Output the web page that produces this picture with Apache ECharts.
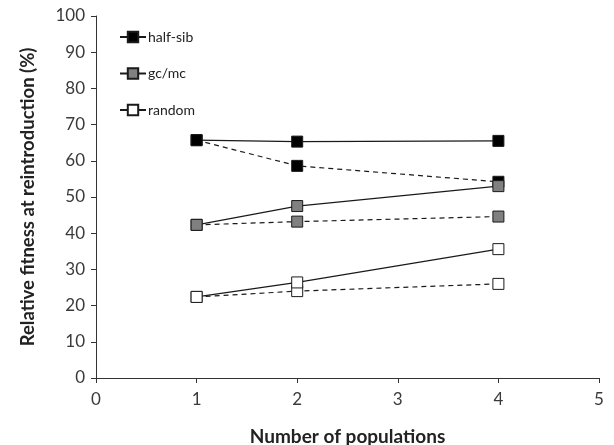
<!DOCTYPE html>
<html>
<head>
<meta charset="utf-8">
<script src="https://cdn.jsdelivr.net/npm/echarts@6/dist/echarts.min.js"></script>
<style>html,body{margin:0;padding:0;background:#fff}#c{width:614px;height:445px}</style>
</head>
<body>
<div id="c"></div>
<script>
var populations = [1, 2, 4];
var halfSibSolid = [65.7, 65.3, 65.5];
var halfSibDashed = [65.7, 58.6, 54.2];
var gcmcSolid = [42.3, 47.5, 53.0];
var gcmcDashed = [42.3, 43.2, 44.6];
var randomSolid = [22.4, 26.4, 35.6];
var randomDashed = [22.4, 24.0, 26.0];
var xTicks = [0, 1, 2, 3, 4, 5];
var yTicks = [0, 10, 20, 30, 40, 50, 60, 70, 80, 90, 100];

function pairs(vals) { return populations.map(function (p, i) { return [p, vals[i]]; }); }

var FONT = 'Lato, "Open Sans", sans-serif';
function mk(name, vals, fill, dashed) {
  return {
    name: name, type: 'line', data: pairs(vals),
    symbol: 'rect', symbolSize: 11, z: dashed ? 2 : 3,
    lineStyle: { color: '#1a1a1a', width: 1.2, type: dashed ? [5, 4] : 'solid' },
    itemStyle: { color: fill, borderColor: '#1a1a1a', borderWidth: 1 },
    emphasis: { disabled: true }, animation: false
  };
}

var chart = echarts.init(document.getElementById('c'));
chart.setOption({
  animation: false,
  grid: { left: 96, right: 15, top: 16, bottom: 67, outerBoundsMode: 'none', containLabel: false },
  legend: {
    orient: 'vertical', left: 114, top: 25, itemGap: 22.5, itemWidth: 26, itemHeight: 13,
    data: ['half-sib', 'gc/mc', 'random'],
    textStyle: { fontFamily: FONT, fontSize: 14, color: '#222', padding: [0, 0, 0, -3] }
  },
  xAxis: {
    type: 'value', min: 0, max: 5, interval: 1,
    name: 'Number of populations', nameLocation: 'middle', nameGap: 49,
    nameTextStyle: { fontFamily: FONT, fontSize: 19, fontWeight: 'bold', color: '#222' },
    axisLine: { lineStyle: { color: '#333', width: 1 } },
    axisTick: { show: true, length: 5, lineStyle: { color: '#333' } },
    axisLabel: { fontFamily: FONT, fontSize: 17, color: '#3a3a3a', margin: 13,
      formatter: function (v) { return xTicks.indexOf(v) >= 0 ? String(v) : ''; } },
    splitLine: { show: false }
  },
  yAxis: {
    type: 'value', min: 0, max: 100, interval: 10,
    name: 'Relative fitness at reintroduction (%)', nameLocation: 'middle', nameGap: 58,
    nameTextStyle: { fontFamily: FONT, fontSize: 18.5, fontWeight: 'bold', color: '#222' },
    axisLine: { show: true, lineStyle: { color: '#333', width: 1 } },
    axisTick: { show: true, length: 5, lineStyle: { color: '#333' } },
    axisLabel: { fontFamily: FONT, fontSize: 17, color: '#3a3a3a', margin: 11,
      formatter: function (v) { return yTicks.indexOf(v) >= 0 ? String(v) : ''; } },
    splitLine: { show: false }
  },
  series: [
    mk('half-sib', halfSibSolid, '#000000', false),
    mk('half-sib ', halfSibDashed, '#000000', true),
    mk('gc/mc', gcmcSolid, '#808080', false),
    mk('gc/mc ', gcmcDashed, '#808080', true),
    mk('random', randomSolid, '#ffffff', false),
    mk('random ', randomDashed, '#ffffff', true)
  ]
});
</script>
</body>
</html>
